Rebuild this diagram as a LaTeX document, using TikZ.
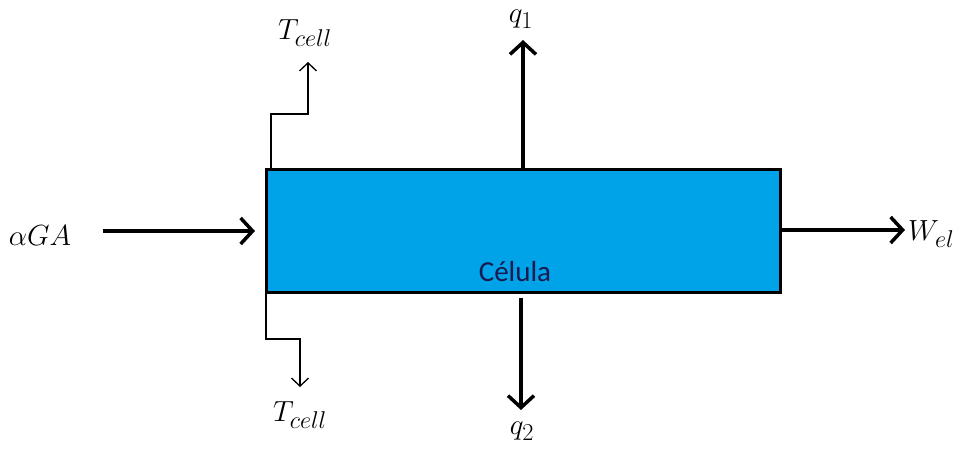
\documentclass[tikz,border=0pt]{standalone}
\usepackage{fontspec}
\usepackage{graphicx}
\newfontfamily\carlito{Carlito}
\usetikzlibrary{arrows.meta}
\definecolor{cellblue}{HTML}{00A2E8}
\definecolor{navy}{HTML}{1A1A50}
\newcommand{\bigmath}[1]{\scalebox{1.17}{$#1$}}
\tikzset{
  bigarrow/.style={line width=4pt,-{Straight Barb[length=12pt,width=26pt,line width=3.5pt]}},
  thinarrow/.style={line width=1.5pt,-{Straight Barb[length=8pt,width=17pt,line width=1.3pt]}},
  lbl/.style={inner sep=0pt,font=\fontsize{24.88}{30}\selectfont},
}
\begin{document}
\begin{tikzpicture}[x=1pt,y=-1pt]
\useasboundingbox (0,0) rectangle (966,453);
\node[draw=black,line width=3pt,fill=cellblue,minimum width=514pt,minimum height=123pt,inner sep=0pt,anchor=north west] (cell) at (265,168) {};
\node[anchor=base,inner sep=0pt,font=\carlito\fontsize{29}{33}\selectfont,text=navy] (celltxt) at (515,281) {Célula};
\node[lbl] (aga) at (40,236) {\bigmath{\alpha G A}};
\coordinate (ain) at (103,231);
\coordinate (aout) at (255,231);
\draw[bigarrow] (ain) -- (aout);
\node[lbl,anchor=west] (wel) at (908,234) {\bigmath{W_{el}}};
\coordinate (wstart) at (779,230);
\coordinate (wend) at (905,230);
\draw[bigarrow] (wstart) -- (wend);
\node[lbl] (q1) at (521,19) {\bigmath{q_1}};
\coordinate (q1s) at (523,168);
\coordinate (q1e) at (523,40);
\draw[bigarrow] (q1s) -- (q1e);
\node[lbl] (q2) at (522,431) {\bigmath{q_2}};
\coordinate (q2s) at (521,298);
\coordinate (q2e) at (521,410);
\draw[bigarrow] (q2s) -- (q2e);
\node[lbl] (t1) at (305,33) {\bigmath{T_{cell}}};
\draw[thinarrow] (271,168) -- (271,114) -- (308,114) -- (308,62);
\node[lbl] (t2) at (300,415) {\bigmath{T_{cell}}};
\draw[thinarrow] (266,291) -- (266,339) -- (300,339) -- (300,387);
\end{tikzpicture}
\end{document}
